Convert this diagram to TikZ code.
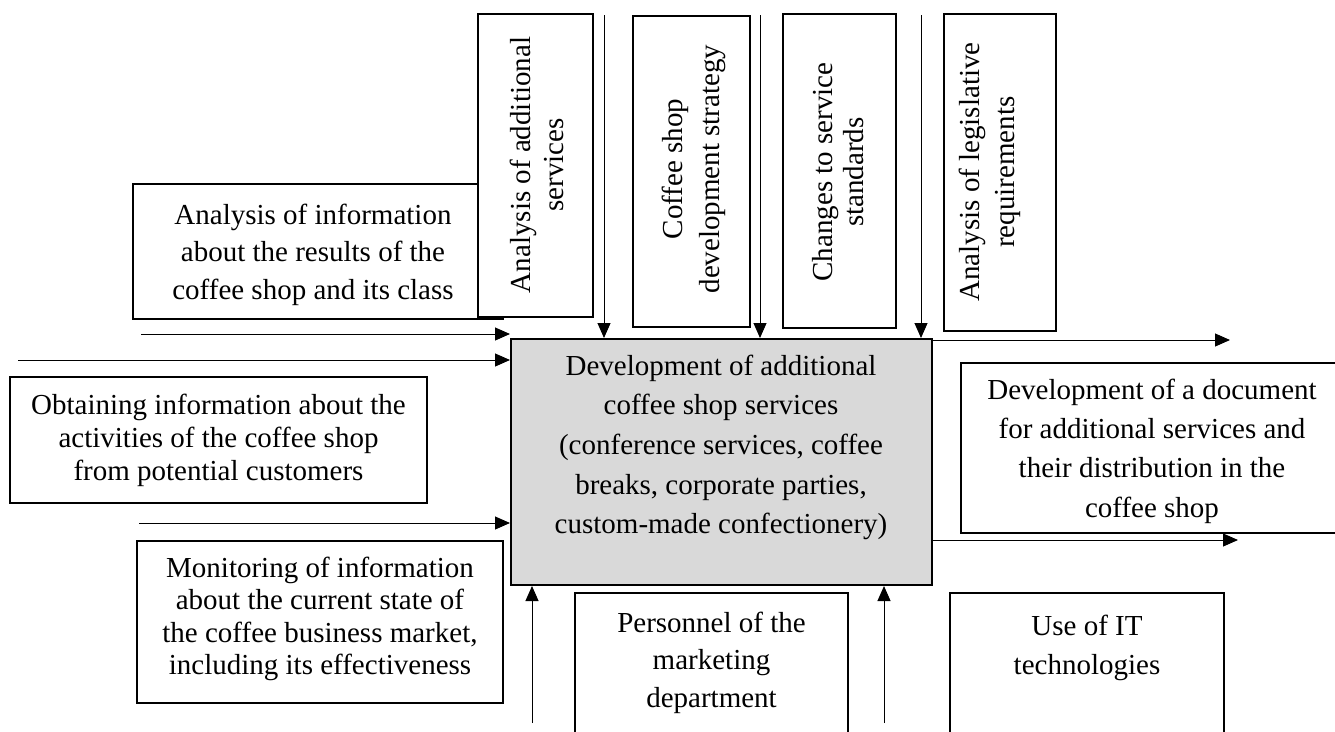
\documentclass[tikz,border=0pt]{standalone}
\usepackage{fontspec}
\setmainfont{Liberation Serif}
\usetikzlibrary{arrows.meta}
\newcommand\myfs[1]{\fontsize{29}{#1}\selectfont}
\definecolor{mgray}{HTML}{D9D9D9}
\begin{document}
\begin{tikzpicture}[x=1pt,y=-1pt,
  box/.style={draw, line width=2pt, fill=white, inner sep=0pt},
  txt/.style={align=center, inner sep=0pt},
  arr/.style={line width=1pt, -{Triangle[length=15pt,width=13pt]}}]
\useasboundingbox (0,0) rectangle (1335,731);
\clip (0,0) rectangle (1335,731);

% main function box
\node[box, fill=mgray, minimum width=421pt, minimum height=246pt] (main) at (721.5,462) {};
\node[txt, font=\myfs{39.7}] (maintxt) at (721,447.5) {Development of additional\\coffee shop services\\(conference services, coffee\\breaks, corporate parties,\\custom-made confectionery)};

% left input boxes
\node[box, minimum width=370pt, minimum height=135pt] (l1) at (318,251.5) {};
\node[txt, font=\myfs{37.5}] (l1t) at (313,254.5) {Analysis of information\\about the results of the\\coffee shop and its class};

\node[box, minimum width=417pt, minimum height=126pt] (l2) at (218.5,440) {};
\node[txt, font=\myfs{33}] (l2t) at (218.5,440) {Obtaining information about the\\activities of the coffee shop\\from potential customers};

\node[box, minimum width=366pt, minimum height=162pt] (l3) at (320,622) {};
\node[txt, font=\myfs{32.5}] (l3t) at (320,619) {Monitoring of information\\about the current state of\\the coffee business market,\\including its effectiveness};

% top control boxes
\node[box, minimum width=115pt, minimum height=303pt] (a1) at (535.5,165.5) {};
\node[txt, rotate=90, font=\myfs{33}] (a1t) at (536.5,165) {Analysis of additional\\services};

\node[box, minimum width=117pt, minimum height=311pt] (a2) at (691.5,171.5) {};
\node[txt, rotate=90, font=\myfs{37}] (a2t) at (693.5,169) {Coffee shop\\development strategy};

\node[box, minimum width=113pt, minimum height=314pt] (a3) at (839.5,171) {};
\node[txt, rotate=90, font=\myfs{31}] (a3t) at (838,172) {Changes to service\\standards};

\node[box, minimum width=112pt, minimum height=317pt] (a4) at (1000,172.5) {};
\node[txt, rotate=90, font=\myfs{35}] (a4t) at (990,172) {Analysis of legislative\\requirements};

% right output box
\node[box, minimum width=382pt, minimum height=170pt] (r) at (1152,448) {};
\node[txt, font=\myfs{39.3}] (rt) at (1152,451) {Development of a document\\for additional services and\\their distribution in the\\coffee shop};

% bottom mechanism boxes
\node[box, minimum width=273pt, minimum height=167pt] (b1) at (711.5,676.5) {};
\node[txt, font=\myfs{37.5}] (b1t) at (711.5,662.5) {Personnel of the\\marketing\\department};

\node[box, minimum width=274pt, minimum height=167pt] (b2) at (1087,676.5) {};
\node[txt, font=\myfs{39}] (b2t) at (1087,647.5) {Use of IT\\technologies};

% input arrows
\coordinate (i1) at (141,334);
\coordinate (i2) at (18,360);
\coordinate (i3) at (139,523);
\draw[arr] (i1) -- (i1 -| main.west);
\draw[arr] (i2) -- (i2 -| main.west);
\draw[arr] (i3) -- (i3 -| main.west);

% control arrows
\coordinate (c1) at (604,15);
\coordinate (c2) at (760,15);
\coordinate (c3) at (921,15);
\draw[arr] (c1) -- (c1 |- main.north);
\draw[arr] (c2) -- (c2 |- main.north);
\draw[arr] (c3) -- (c3 |- main.north);

% mechanism arrows
\coordinate (m1) at (532,723);
\coordinate (m2) at (884,723);
\draw[arr] (m1) -- (m1 |- main.south);
\draw[arr] (m2) -- (m2 |- main.south);

% output arrows
\coordinate (o1) at (1230,340);
\coordinate (o2) at (1238,540);
\draw[arr] (o1 -| main.east) -- (o1);
\draw[arr] (o2 -| main.east) -- (o2);
\end{tikzpicture}
\end{document}
